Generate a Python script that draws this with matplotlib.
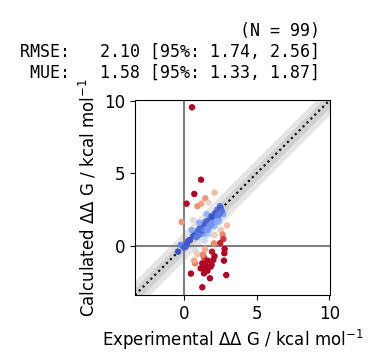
import numpy as np
import matplotlib
matplotlib.use("Agg")
import matplotlib.pyplot as plt

# Experimental and calculated ΔΔG values (kcal/mol)
exp_vals = [
    0.55, 1.17, 0.71, 0.18, 2.11, 1.47, 1.19, 1.70, 0.92, -0.16,
    0.62, 2.48, 2.34, 2.71, 1.56, 1.97, 1.74, 1.44, 1.24, 1.03,
    0.76, 0.53, 2.43, 2.11, 2.96, 2.55, 1.90, 2.11, 2.66, 2.71,
    1.58, 1.42, 0.41, -0.23, -0.41, 0.11, 0.80, 0.92, 1.44, 2.06,
    1.93, 2.80, 2.78, 1.38, 2.02, 2.75, 0.76, 1.26, 1.61, 1.15,
    1.49, 1.83, 1.38, 1.79, 0.48, 2.91, 1.26,
    # hidden under the dense cluster
    1.10, 1.30, 1.35, 1.52, 1.60, 1.65, 1.82, 1.88, 2.00, 2.05,
    2.20, 2.25, 2.30, 2.38, 2.52, 2.60, 0.95, 1.05, 1.20, 1.40,
    1.70, 1.95, 2.15, 2.35, 0.30, 0.20, 0.00, 0.65, 0.85, 1.00,
    1.55, 1.75, 2.45, 1.85, 2.25, 1.30, 1.62, 2.10, 1.45, 0.70,
    1.90, 2.50,
]
calc_vals = [
    9.54, 4.56, 3.58, 2.91, 3.67, 3.28, 2.91, 2.98, 2.73, 1.65,
    1.79, 2.75, 2.36, 2.18, 2.20, 1.86, 1.72, 1.56, 1.33, 1.10,
    0.94, 1.10, 1.67, 1.38, 1.42, 1.10, 0.80, 0.76, 0.78, 0.48,
    0.80, 0.37, 0.41, 0.07, -0.39, -0.05, -0.34, -0.57, -0.23, 0.18,
    -0.39, -0.21, -0.50, -0.78, -0.96, -1.01, -1.19, -1.19, -1.01, -1.54,
    -1.54, -1.42, -1.88, -2.22, -1.90, -2.00, -2.84,
    1.25, 0.85, 1.30, 1.70, 1.55, 1.10, 1.90, 2.05, 2.00, 1.40,
    2.30, 2.05, 2.50, 1.85, 2.60, 2.40, 0.80, 1.60, 1.05, 1.15,
    1.50, 1.60, 2.25, 2.10, 0.35, 0.15, -0.10, 0.70, 0.60, 0.75,
    1.10, 1.30, 2.20, 1.45, 1.70, -0.60, -1.70, -0.70, -1.30, -1.00,
    -1.30, 0.20,
]

n_label = "(N = 99) "
rmse_label = "RMSE:   2.10 [95%: 1.74, 2.56] "
mue_label = " MUE:   1.58 [95%: 1.33, 1.87] "

x = np.array(exp_vals)
y = np.array(calc_vals)

fig = plt.figure(figsize=(3.72, 3.58), dpi=100)
ax = fig.add_axes([0.363, 0.176, 0.524, 0.545])

ax_min, ax_max = -3.37, 10.05
ax.set_xlim(ax_min, ax_max)
ax.set_ylim(ax_min, ax_max)

ax.axhline(0, color="grey", lw=1.5, zorder=0.5)
ax.axvline(0, color="grey", lw=1.5, zorder=0.5)
ax.fill_between([ax_min, ax_max], [ax_min - 0.5, ax_max - 0.5],
                [ax_min + 0.5, ax_max + 0.5], color="grey", alpha=0.2, lw=0)
ax.fill_between([ax_min, ax_max], [ax_min - 1.0, ax_max - 1.0],
                [ax_min + 1.0, ax_max + 1.0], color="grey", alpha=0.2, lw=0)
ax.plot([ax_min, ax_max], [ax_min, ax_max], color="black", ls=":", lw=1.5, zorder=1)

ax.errorbar(x, y, xerr=0.1, yerr=0.1, color="grey", ls="none", lw=0.5, zorder=1.5)
cmap = plt.get_cmap("coolwarm")
colors = cmap(np.abs(x - y) / 2.372)
ax.scatter(x, y, color=colors, s=13, zorder=2)

ax.set_xticks([0, 5, 10])
ax.set_yticks([0, 5, 10])
ax.tick_params(labelsize=12)
ax.set_xlabel(r"Experimental $\Delta\Delta$ G / kcal mol$^{-1}$", fontsize=12)
ax.set_ylabel(r"Calculated $\Delta\Delta$ G / kcal mol$^{-1}$", fontsize=12)

title = "\n".join([n_label, rmse_label, mue_label])
ax.set_title(title, fontsize=12, loc="right", ha="right", family="monospace",
             pad=16)

fig.savefig("out.png", dpi=100)
